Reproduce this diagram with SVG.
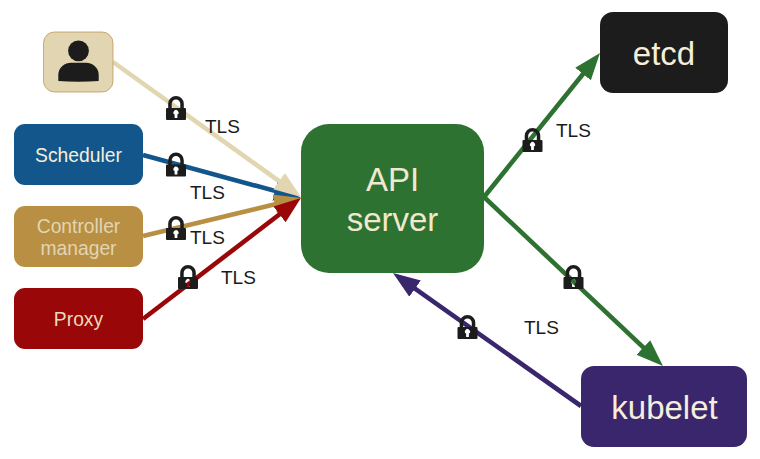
<svg xmlns="http://www.w3.org/2000/svg" width="760" height="459" viewBox="0 0 760 459">
<style>
text{font-family:"Liberation Sans",Arial,sans-serif;text-anchor:middle}
.tls{font-size:19px;fill:#1a1a1a;text-anchor:start}
.sm{font-size:19.3px}
.lg{font-size:33px}
.cream{fill:#f5eeda}
.line{fill:none;stroke-width:4.6}
.lock{fill:#1c1c1c;fill-rule:evenodd}
</style>
<defs>
<marker id="h-beige" markerUnits="userSpaceOnUse" viewBox="0 0 27 21" markerWidth="27" markerHeight="21" refX="17" refY="10.5" orient="auto"><path d="M0 .5L27 10.500L0 20.500Z" fill="#e1d5b2"/></marker>
<marker id="h-blue" markerUnits="userSpaceOnUse" viewBox="0 0 27 21" markerWidth="27" markerHeight="21" refX="17" refY="10.5" orient="auto"><path d="M0 .5L27 10.500L0 20.500Z" fill="#12568c"/></marker>
<marker id="h-tan" markerUnits="userSpaceOnUse" viewBox="0 0 27 21" markerWidth="27" markerHeight="21" refX="17" refY="10.5" orient="auto"><path d="M0 .5L27 10.500L0 20.500Z" fill="#b98f43"/></marker>
<marker id="h-red" markerUnits="userSpaceOnUse" viewBox="0 0 27 21" markerWidth="27" markerHeight="21" refX="17" refY="10.5" orient="auto"><path d="M0 .5L27 10.500L0 20.500Z" fill="#9a0709"/></marker>
<marker id="h-green" markerUnits="userSpaceOnUse" viewBox="0 0 27 21" markerWidth="27" markerHeight="21" refX="17" refY="10.5" orient="auto"><path d="M0 .5L27 10.500L0 20.500Z" fill="#2d7230"/></marker>
<marker id="h-purple" markerUnits="userSpaceOnUse" viewBox="0 0 27 21" markerWidth="27" markerHeight="21" refX="17" refY="10.5" orient="auto"><path d="M0 .5L27 10.500L0 20.500Z" fill="#39266d"/></marker>
<path id="lock" class="lock" d="M2.200 12V7.800A7.800 7.800 0 0 1 17.800 7.800V12H19Q20 12 20 13V23Q20 24 19 24H1Q0 24 0 23V13Q0 12 1 12ZM5.700 12H14.300V7.800A4.300 4.300 0 0 0 5.700 7.800ZM8.600 18.600A2.500 2.500 0 1 1 11.400 18.600V22H8.600Z"/>
</defs>
<g id="connectors">
<line class="line" x1="143" y1="155" x2="291.3" y2="195.4" stroke="#12568c" marker-end="url(#h-blue)"/>
<line class="line" x1="113" y1="62" x2="292.9" y2="191.1" stroke="#e1d5b2" marker-end="url(#h-beige)"/>
<line class="line" x1="143" y1="236" x2="291.3" y2="200.3" stroke="#b98f43" marker-end="url(#h-tan)"/>
<line class="line" x1="143" y1="319" x2="293" y2="204" stroke="#9a0709" marker-end="url(#h-red)"/>
<line class="line" x1="484" y1="197" x2="593.7" y2="60.8" stroke="#2d7230" marker-end="url(#h-green)"/>
<line class="line" x1="484" y1="197" x2="655.7" y2="359.1" stroke="#2d7230" marker-end="url(#h-green)"/>
<line class="line" x1="581" y1="406" x2="401.2" y2="278.8" stroke="#39266d" marker-end="url(#h-purple)"/>
</g>
<g id="user"><rect x="43.500" y="32" width="69.500" height="60" rx="11" fill="#e1d5b2" stroke="#b98f43" stroke-width=".7"/><circle cx="78.500" cy="50.800" r="10.400" fill="#1c1c1c"/><path d="M58.300 81V75C58.300 67 65 62.700 71 62.700H86C92 62.700 98.700 67 98.700 75V81Q78.500 82.500 58.300 81Z" fill="#1c1c1c"/></g>
<g id="scheduler"><rect x="14" y="124" width="129" height="61" rx="11" fill="#12568c"/><text class="sm cream" x="78.500" y="162">Scheduler</text></g>
<g id="controller-manager"><rect x="14" y="206" width="129" height="61" rx="11" fill="#b98f43"/><text class="sm" fill="#e1d5b2" x="78.500" y="232.500">Controller</text><text class="sm" fill="#e1d5b2" x="78.500" y="254.500">manager</text></g>
<g id="proxy"><rect x="14" y="288" width="129" height="61" rx="11" fill="#9a0709"/><text class="sm" fill="#e8dcb8" x="78.500" y="325.500">Proxy</text></g>
<g id="api-server"><rect x="301" y="124" width="183" height="149" rx="28" fill="#2d7230"/><text class="lg" fill="#f0e8cf" x="392.500" y="191">API</text><text class="lg" fill="#f0e8cf" x="392.500" y="231">server</text></g>
<g id="etcd"><rect x="600" y="12" width="128" height="81" rx="13" fill="#1c1c1c"/><text class="lg cream" x="664" y="65">etcd</text></g>
<g id="kubelet"><rect x="581" y="366" width="166" height="81" rx="13" fill="#39266d"/><text class="lg cream" x="664.500" y="418.500">kubelet</text></g>
<g id="locks">
<use href="#lock" x="166" y="96"/>
<use href="#lock" x="166" y="152.500"/>
<use href="#lock" x="166" y="216"/>
<use href="#lock" x="178" y="265"/>
<use href="#lock" x="522.500" y="128"/>
<use href="#lock" x="563.500" y="265"/>
<use href="#lock" x="457.500" y="315"/>
</g>
<g id="labels">
<text class="tls" x="205" y="132.500">TLS</text>
<text class="tls" x="190" y="198.500">TLS</text>
<text class="tls" x="190" y="244">TLS</text>
<text class="tls" x="221" y="283.500">TLS</text>
<text class="tls" x="556" y="137">TLS</text>
<text class="tls" x="524" y="334">TLS</text>
</g>
</svg>
